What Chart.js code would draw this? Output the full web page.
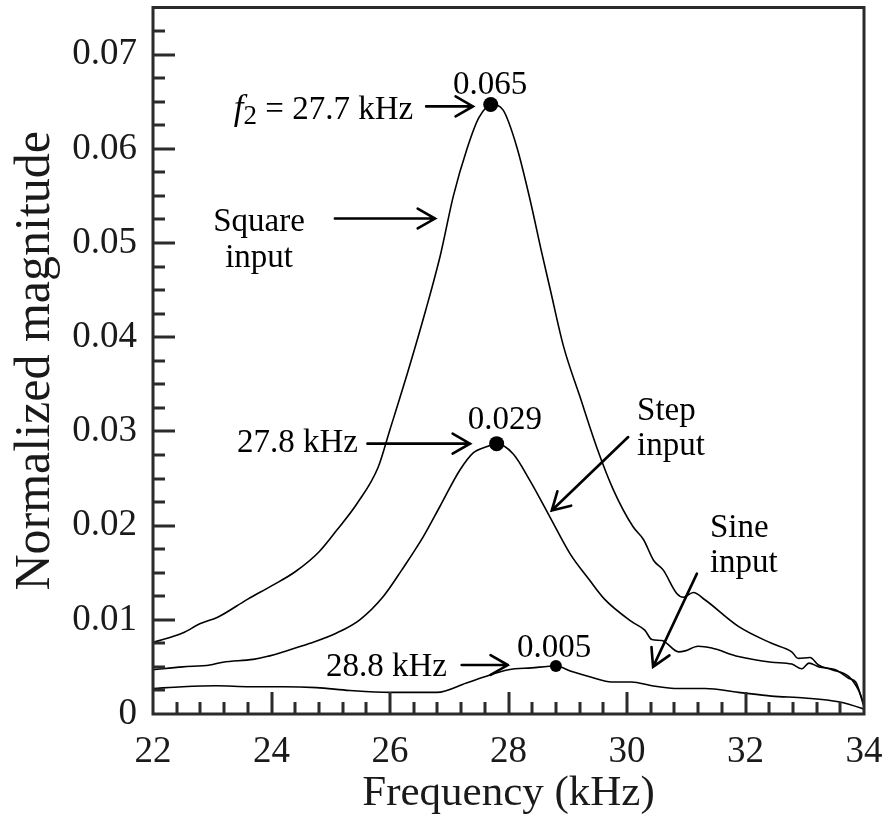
<!DOCTYPE html>
<html>
<head>
<meta charset="utf-8">
<script src="https://cdn.jsdelivr.net/npm/chart.js@4.4.0/dist/chart.umd.min.js"></script>
<style>
  body { margin: 0; background: #fff; }
  #wrap { width: 883px; height: 822px; }
</style>
</head>
<body>
<div id="wrap"><canvas id="magChart" width="883" height="822"></canvas></div>
<script>
// axis ticks
const freqTicks = [22, 24, 26, 28, 30, 32, 34];
const magTicks = [0, 0.01, 0.02, 0.03, 0.04, 0.05, 0.06, 0.07];

// square input
const squareFreq = [22.0, 22.5, 22.8, 23.1, 23.6, 24.0, 24.4, 24.8, 25.1, 25.45, 25.8, 26.0, 26.3, 26.6, 26.85,
  27.07, 27.3, 27.5, 27.72, 27.91, 28.14, 28.36, 28.56, 28.7, 28.93, 29.2, 29.49, 29.77, 30.1, 30.28, 30.45,
  30.61, 30.84, 30.95, 31.12, 31.32, 31.88, 32.44, 32.78, 32.89, 33.09, 33.23, 33.46, 33.74, 33.91, 34.0];
const squareMag = [0.0076, 0.0086, 0.0096, 0.0103, 0.0122, 0.0136, 0.0151, 0.0172, 0.0195, 0.0224, 0.0262, 0.0302, 0.0363, 0.0428, 0.0487,
  0.0550, 0.0600, 0.0633, 0.0647, 0.0641, 0.0602, 0.0547, 0.0490, 0.0452, 0.0390, 0.0338, 0.0283, 0.0238, 0.0199, 0.0185, 0.0163,
  0.0153, 0.0128, 0.0124, 0.0129, 0.0121, 0.0093, 0.0075, 0.0066, 0.0059, 0.0060, 0.0052, 0.0047, 0.0040, 0.0025, 0.0010];

// step input
const stepFreq = [22.0, 22.5, 22.96, 23.18, 23.69, 23.92, 24.2, 24.65, 25.1, 25.49, 25.89, 26.2, 26.56, 26.84, 27.18,
  27.4, 27.64, 27.8, 28.08, 28.36, 28.7, 29.04, 29.37, 29.62, 30.08, 30.3, 30.42, 30.59, 30.87, 30.98, 31.2,
  31.43, 31.88, 32.44, 32.78, 32.95, 33.07, 33.24, 33.52, 33.74, 33.86, 34.0];
const stepMag = [0.0047, 0.0050, 0.0052, 0.0055, 0.0058, 0.0061, 0.0066, 0.0075, 0.0086, 0.0100, 0.0125, 0.0153, 0.0188, 0.0220, 0.0259,
  0.0277, 0.0284, 0.0287, 0.0276, 0.0248, 0.0209, 0.0170, 0.0142, 0.0122, 0.0098, 0.0089, 0.0079, 0.0078, 0.0066, 0.0067, 0.0072,
  0.0070, 0.0061, 0.0055, 0.0053, 0.0048, 0.0054, 0.0050, 0.0047, 0.0038, 0.0034, 0.0008];

// sine input
const sineFreq = [22.0, 22.5, 23.07, 23.64, 24.2, 24.76, 25.32, 26.0, 26.79, 27.29, 27.57, 28.0, 28.39, 28.8,
  29.07, 29.4, 29.74, 30.08, 30.42, 30.87, 31.32, 31.88, 32.44, 33.0, 33.57, 33.96, 34.0];
const sineMag = [0.0027, 0.0029, 0.0030, 0.0029, 0.0029, 0.0028, 0.0025, 0.0023, 0.0023, 0.0033, 0.0039, 0.0047, 0.0049, 0.0051,
  0.0045, 0.0039, 0.0034, 0.0034, 0.0030, 0.0027, 0.0027, 0.0023, 0.0019, 0.0017, 0.0013, 0.0006, 0.0005];

// peaks
const peakFreq = [27.7, 27.8, 28.8];
const peakMag = [0.0647, 0.0287, 0.0051];
const peakLabels = ['0.065', '0.029', '0.005'];

document.addEventListener('DOMContentLoaded', function() {

  const serif = "'Liberation Serif', 'DejaVu Serif', serif";
  const ink = '#1a1a1a';

  function toPoints(xs, ys) {
    return xs.map((x, i) => ({ x: x, y: ys[i] }));
  }

  // annotation texts (placed in data units)
  const notes = [
    { text: peakLabels[0], x: 27.69, y: 0.0658, align: 'center' },
    { text: peakLabels[1], x: 27.94, y: 0.0303, align: 'center' },
    { text: peakLabels[2], x: 28.77, y: 0.0061, align: 'center' },
    { text: '27.8 kHz', x: 25.46, y: 0.0278, align: 'right' },
    { text: '28.8 kHz', x: 26.96, y: 0.0040, align: 'right' },
    { text: 'Square', x: 23.79, y: 0.0513, align: 'center' },
    { text: 'input', x: 23.79, y: 0.0474, align: 'center' },
    { text: 'Step', x: 30.17, y: 0.0312, align: 'left' },
    { text: 'input', x: 30.17, y: 0.0275, align: 'left' },
    { text: 'Sine', x: 31.4, y: 0.0188, align: 'left' },
    { text: 'input', x: 31.4, y: 0.0151, align: 'left' }
  ];
  // arrows: from (x1,y1) to head (x2,y2)
  const arrows = [
    [26.61, 0.0645, 27.40, 0.0645],
    [25.07, 0.0526, 26.76, 0.0526],
    [25.62, 0.0287, 27.35, 0.0287],
    [30.02, 0.0294, 28.73, 0.0216],
    [31.18, 0.0149, 30.44, 0.0050],
    [27.21, 0.0052, 27.99, 0.0052]
  ];

  // frame + inward ticks
  const framePlugin = {
    id: 'frame',
    afterDatasetsDraw(chart) {
      const c = chart.ctx, a = chart.chartArea;
      const xs = chart.scales.x, ys = chart.scales.y;
      c.save();
      c.strokeStyle = '#2b2b2b';
      c.lineWidth = 3;
      c.lineCap = 'butt';
      c.beginPath();
      for (let i = 1; i < 30; i++) {
        const px = Math.round(xs.getPixelForValue(22 + i * 0.4));
        const len = (i % 5 === 0) ? 22 : 12;
        c.moveTo(px, a.bottom);
        c.lineTo(px, a.bottom - len);
      }
      for (let j = 1; j <= 29; j++) {
        const py = Math.round(ys.getPixelForValue(j * 0.0025));
        const len = (j % 4 === 0) ? 22 : 12;
        c.moveTo(a.left, py);
        c.lineTo(a.left + len, py);
      }
      c.stroke();
      c.strokeRect(a.left, a.top, a.right - a.left, a.bottom - a.top);
      c.restore();
    }
  };

  const notePlugin = {
    id: 'notes',
    afterDraw(chart) {
      const c = chart.ctx;
      const xs = chart.scales.x, ys = chart.scales.y;
      c.save();
      c.fillStyle = '#000';
      c.textBaseline = 'alphabetic';
      c.font = '33px ' + serif;
      notes.forEach(n => {
        c.textAlign = n.align;
        c.fillText(n.text, xs.getPixelForValue(n.x), ys.getPixelForValue(n.y));
      });

      // f2 = 27.7 kHz, right aligned
      const parts = [
        { t: 'f', font: 'italic 35px ' + serif, dy: 0 },
        { t: '2', font: '27px ' + serif, dy: 5 },
        { t: ' = 27.7 kHz', font: '33px ' + serif, dy: 0 }
      ];
      let w = 0;
      parts.forEach(p => { c.font = p.font; w += c.measureText(p.t).width; });
      let px = xs.getPixelForValue(26.39) - w;
      const py = ys.getPixelForValue(0.0632);
      c.textAlign = 'left';
      parts.forEach(p => {
        c.font = p.font;
        c.fillText(p.t, px, py + p.dy);
        px += c.measureText(p.t).width;
      });

      // arrows
      c.strokeStyle = '#000';
      c.lineWidth = 2.6;
      c.lineCap = 'round';
      arrows.forEach(ar => {
        const x1 = xs.getPixelForValue(ar[0]), y1 = ys.getPixelForValue(ar[1]);
        const x2 = xs.getPixelForValue(ar[2]), y2 = ys.getPixelForValue(ar[3]);
        const ang = Math.atan2(y2 - y1, x2 - x1);
        const hl = 20, spread = 0.52;
        c.beginPath();
        c.moveTo(x1, y1);
        c.lineTo(x2, y2);
        c.moveTo(x2 - hl * Math.cos(ang - spread), y2 - hl * Math.sin(ang - spread));
        c.lineTo(x2, y2);
        c.lineTo(x2 - hl * Math.cos(ang + spread), y2 - hl * Math.sin(ang + spread));
        c.stroke();
      });
      c.restore();
    }
  };

  const lineStyle = {
    borderColor: '#000',
    borderWidth: 1.6,
    pointRadius: 0,
    fill: false,
    cubicInterpolationMode: 'monotone',
    order: 1
  };

  const ctx = document.getElementById('magChart');
  const magChart = new Chart(ctx, {
    type: 'line',
    data: {
      datasets: [
        Object.assign({ label: 'Square input', data: toPoints(squareFreq, squareMag) }, lineStyle),
        Object.assign({ label: 'Step input', data: toPoints(stepFreq, stepMag) }, lineStyle),
        Object.assign({ label: 'Sine input', data: toPoints(sineFreq, sineMag) }, lineStyle),
        {
          label: 'peaks',
          data: toPoints(peakFreq, peakMag),
          showLine: false,
          pointRadius: [7.5, 7.5, 6],
          pointBackgroundColor: '#000',
          pointBorderWidth: 0,
          order: 0
        }
      ]
    },
    options: {
      responsive: false,
      animation: false,
      layout: { padding: { top: 7, right: 19, left: 0, bottom: 0 } },
      plugins: {
        legend: { display: false },
        tooltip: { enabled: false }
      },
      scales: {
        x: {
          type: 'linear',
          min: 22,
          max: 34,
          afterBuildTicks: (scale) => { scale.ticks = freqTicks.map(v => ({ value: v })); },
          afterFit: (scale) => {
            scale.height = 108;
            scale.paddingLeft = 0;
            scale.paddingRight = 0;
          },
          grid: { display: false, drawTicks: false },
          border: { display: false },
          ticks: {
            color: ink,
            padding: 16,
            maxRotation: 0,
            font: { family: serif, size: 37 },
            callback: (v) => String(v)
          },
          title: {
            display: true,
            text: 'Frequency (kHz)',
            color: ink,
            font: { family: serif, size: 43 },
            padding: { top: 0, bottom: 2 }
          }
        },
        y: {
          min: 0,
          max: 0.075,
          afterBuildTicks: (scale) => { scale.ticks = magTicks.map(v => ({ value: v })); },
          afterFit: (scale) => {
            scale.width = 153;
            scale.paddingTop = 0;
            scale.paddingBottom = 0;
          },
          grid: { display: false, drawTicks: false },
          border: { display: false },
          ticks: {
            color: ink,
            padding: 16,
            font: { family: serif, size: 37 },
            callback: (v) => v === 0 ? '0' : v.toFixed(2)
          },
          title: {
            display: true,
            text: 'Normalized magnitude',
            color: ink,
            font: { family: serif, size: 50 },
            padding: { top: 6, bottom: 0 }
          }
        }
      }
    },
    plugins: [framePlugin, notePlugin]
  });
});
</script>
</body>
</html>
